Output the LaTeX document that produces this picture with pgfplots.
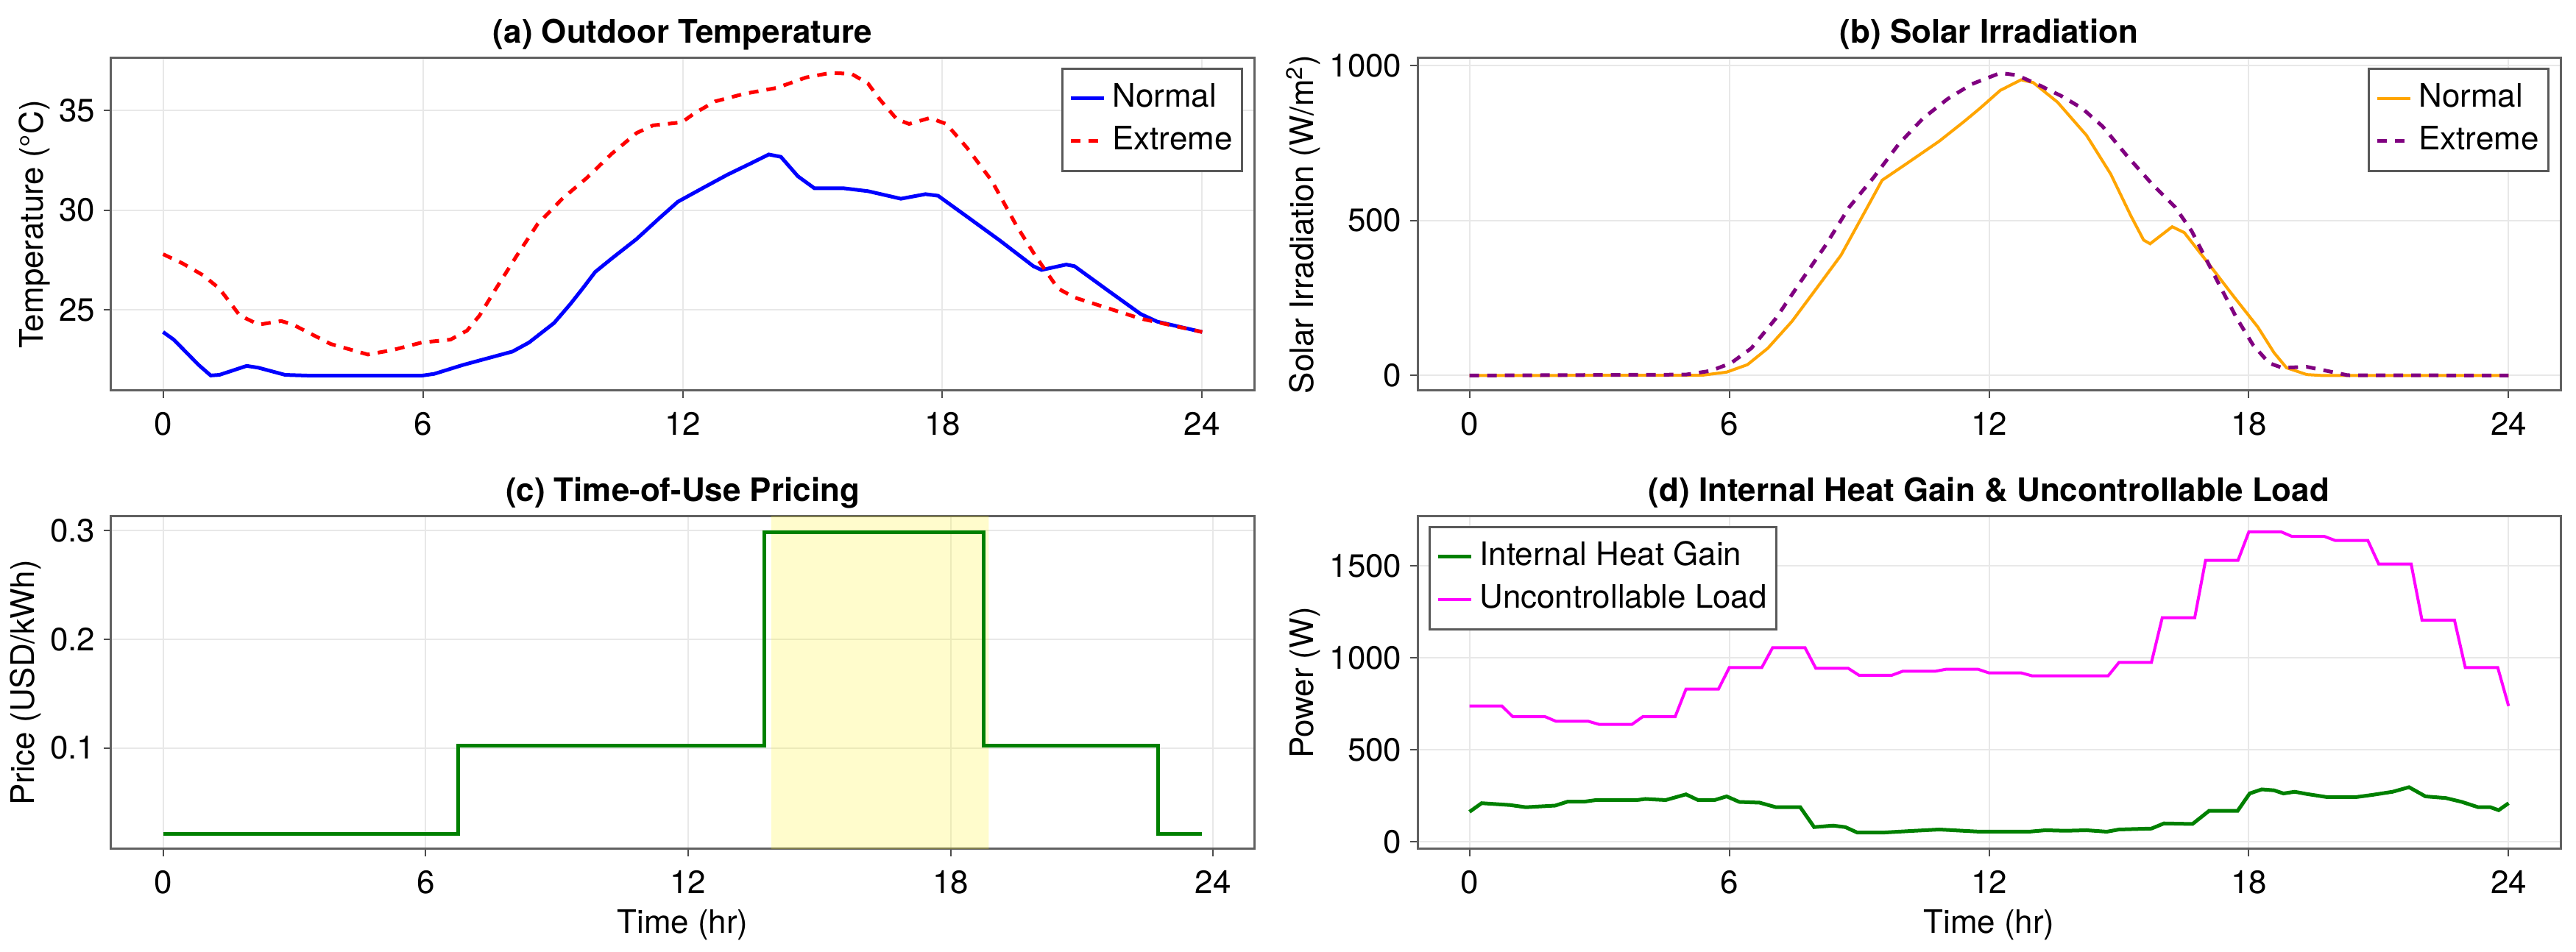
\documentclass[border=0pt]{standalone}
\usepackage{fontspec}
\setmainfont{TeX Gyre Heros}
\usepackage{pgfplots}
\pgfplotsset{compat=1.18}
\definecolor{cblue}{RGB}{0,0,255}
\definecolor{cred}{RGB}{255,0,0}
\definecolor{corange}{RGB}{255,165,0}
\definecolor{cpurple}{RGB}{128,0,128}
\definecolor{cgreen}{RGB}{0,128,0}
\definecolor{cmag}{RGB}{255,0,255}
\newcommand{\fs}{\fontsize{12.5}{15}\selectfont}
\pgfplotsset{
  panel/.style={
    scale only axis, width=15.53cm, height=4.52cm,
    xmin=-1.2, xmax=25.2,
    xtick={0,6,12,18,24},
    grid=major, grid style={black!9, line width=0.02cm},
    axis line style={black!62, line width=0.03cm},
    tick style={black!70, line width=0.02cm},
    major tick length=0.1cm, tick align=outside,
    xtick pos=bottom, ytick pos=left,
    font=\fs,
    /pgf/number format/assume math mode=true,
    /pgf/number format/1000 sep={},
    title style={font=\bfseries\fs, at={(0.5,1)}, anchor=base, yshift=-0.011cm, inner sep=0pt},
    xticklabel style={inner sep=0pt},
    yticklabel style={inner sep=0pt},
    xticklabel shift=0.19cm,
    yticklabel shift=0.11cm,
    ylabel style={at={(ticklabel cs:0.5,0.12cm)}, inner sep=0pt},
    xlabel style={at={(ticklabel cs:0.5,0.2cm)}, inner sep=0pt},
    legend cell align=left,
    legend style={draw=black!65, line width=0.03cm, font=\fs,
      inner xsep=0.09cm, inner ysep=0.15cm,
      nodes={inner sep=0.04cm, text height=0.33cm, text depth=0.1cm},
      row sep=0.07cm, column sep=0.05cm},
    legend image code/.code={\draw[##1] (0cm,0cm) -- (0.45cm,0cm);},
    every axis plot/.append style={line width=0.05cm},
  }
}
\begin{document}
\begin{tikzpicture}
\path[use as bounding box] (0,0) rectangle (35cm,12.94cm);
% (a)
\begin{axis}[panel, at={(1.51cm,7.63cm)}, anchor=south west,
  ymin=20.95, ymax=37.62, ytick={25,30,35},
  title={(a) Outdoor Temperature}, ylabel={Temperature (°C)},
  legend style={at={(1,1)}, anchor=north east, xshift=-0.15cm, yshift=-0.13cm}]
\addplot[cblue, solid] coordinates {(0,23.89) (0.25,23.5) (0.82,22.24) (1.1,21.71) (1.3,21.74) (1.93,22.19) (2.2,22.1) (2.82,21.74) (3.4,21.7) (5.97,21.7) (6.26,21.79) (6.93,22.24) (8.07,22.91) (8.45,23.36) (9.03,24.34) (9.41,25.3) (9.69,26.07) (9.98,26.9) (10.36,27.57) (10.93,28.54) (11.5,29.67) (11.89,30.42) (12.46,31.1) (13.03,31.77) (13.6,32.37) (13.99,32.79) (14.27,32.67) (14.66,31.7) (15.04,31.1) (15.7,31.1) (16.28,30.95) (17.04,30.57) (17.61,30.8) (17.9,30.72) (18.57,29.67) (19.33,28.47) (20.1,27.19) (20.29,27.0) (20.86,27.27) (21.05,27.19) (21.81,25.99) (22.58,24.79) (22.96,24.41) (24,23.89)};
\addlegendentry{Normal}
\addplot[cred, dash pattern=on 0.13cm off 0.11cm] coordinates {(0,27.79) (0.44,27.34) (0.92,26.74) (1.3,26.07) (1.77,24.72) (2.21,24.26) (2.73,24.44) (3.0,24.26) (3.87,23.29) (4.73,22.76) (5.31,22.99) (5.97,23.36) (6.64,23.51) (7.02,23.96) (7.31,24.72) (7.69,26.07) (8.17,27.72) (8.65,29.3) (9.22,30.57) (9.79,31.62) (10.36,32.82) (10.94,33.87) (11.32,34.25) (11.98,34.4) (12.27,34.85) (12.75,35.45) (13.42,35.83) (14.18,36.13) (14.85,36.65) (15.42,36.88) (15.9,36.83) (16.28,36.35) (16.56,35.53) (16.95,34.55) (17.23,34.32) (17.71,34.62) (18.09,34.32) (18.57,33.12) (19.14,31.47) (19.71,29.22) (20.1,27.87) (20.38,26.97) (20.67,26.07) (21.05,25.62) (21.81,25.09) (22.58,24.56) (24,23.89)};
\addlegendentry{Extreme}
\end{axis}
% (b)
\begin{axis}[panel, at={(19.26cm,7.63cm)}, anchor=south west,
  ymin=-48.8, ymax=1024, ytick={0,500,1000},
  title={(b) Solar Irradiation}, ylabel={Solar Irradiation (W/m\textsuperscript{2})},
  legend style={at={(1,1)}, anchor=north east, xshift=-0.15cm, yshift=-0.13cm}]
\addplot[corange, line width=0.04cm] coordinates {(0,0) (5.38,1) (5.94,11) (6.42,35) (6.89,88) (7.45,175) (8.02,282) (8.58,388) (9.15,533) (9.53,630) (10.09,683) (10.85,756) (11.42,819) (11.79,862) (12.26,920) (12.74,954) (13.02,945) (13.58,882) (14.25,775) (14.81,650) (15.28,514) (15.57,437) (15.72,425) (16.23,480) (16.51,461) (17.08,359) (17.64,257) (18.21,156) (18.58,74) (18.87,25) (19.34,3) (19.7,0) (24,0)};
\addlegendentry{Normal}
\addplot[cpurple, dash pattern=on 0.13cm off 0.11cm] coordinates {(0,0) (5.0,3) (5.57,15) (6.04,40) (6.51,88) (7.08,185) (7.64,301) (8.21,417) (8.77,543) (9.34,640) (9.91,746) (10.47,829) (11.04,892) (11.6,940) (12.26,976) (12.64,969) (13.11,940) (13.68,901) (14.15,862) (14.62,804) (15.19,708) (15.75,620) (16.3,543) (16.68,466) (17.25,311) (17.72,185) (18.1,98) (18.47,40) (18.77,25) (19.34,28) (19.8,15) (20.28,1) (24,0)};
\addlegendentry{Extreme}
\end{axis}
% (c)
\begin{axis}[panel, at={(1.51cm,1.40cm)}, anchor=south west,
  xmin=-1.1875, xmax=24.9375,
  ymin=0.0071, ymax=0.3129, ytick={0.1,0.2,0.3},
  yticklabel style={/pgf/number format/.cd, fixed, precision=1},
  title={(c) Time-of-Use Pricing}, ylabel={Price (USD/kWh)}, xlabel={Time (hr)}]
\addplot[draw=none, fill=yellow, fill opacity=0.2, line width=0pt] coordinates {(13.9,-1) (13.9,1) (18.87,1) (18.87,-1)} \closedcycle;
\addplot[cgreen] coordinates {(0,0.021) (6.75,0.021) (6.75,0.102) (13.75,0.102) (13.75,0.298) (18.75,0.298) (18.75,0.102) (22.75,0.102) (22.75,0.021) (23.75,0.021)};
\end{axis}
% (d)
\begin{axis}[panel, at={(19.26cm,1.40cm)}, anchor=south west,
  ymin=-39, ymax=1769, ytick={0,500,1000,1500},
  title={(d) Internal Heat Gain \& Uncontrollable Load}, ylabel={Power (W)}, xlabel={Time (hr)},
  legend style={at={(0,1)}, anchor=north west, xshift=0.15cm, yshift=-0.13cm}]
\addplot[cgreen] coordinates {(0,163) (0.28,210) (0.94,200) (1.3,188) (1.98,197) (2.26,218) (2.64,218) (2.92,227) (3.87,227) (4.06,233) (4.53,227) (5.0,258) (5.28,227) (5.66,227) (5.94,247) (6.23,217) (6.7,213) (7.08,188) (7.64,188) (7.96,80) (8.4,88) (8.68,80) (8.96,50) (9.53,50) (10.28,60) (10.85,67) (11.79,55) (12.92,55) (13.3,63) (13.77,60) (14.25,63) (14.72,55) (15.0,67) (15.75,72) (16.04,100) (16.7,97) (17.08,168) (17.74,168) (18.02,263) (18.3,285) (18.58,280) (18.8,263) (19.06,272) (19.34,260) (19.81,243) (20.47,243) (20.85,255) (21.32,272) (21.7,297) (22.08,247) (22.55,238) (22.92,217) (23.3,188) (23.58,188) (23.77,172) (24,210)};
\addlegendentry{Internal Heat Gain}
\addplot[cmag, line width=0.04cm] coordinates {(0,738) (0.75,738) (1,680) (1.75,680) (2,655) (2.75,655) (3,638) (3.75,638) (4,680) (4.75,680) (5,830) (5.75,830) (6,947) (6.75,947) (7,1055) (7.75,1055) (8,943) (8.75,943) (9,905) (9.75,905) (10,927) (10.75,927) (11,938) (11.75,938) (12,918) (12.75,918) (13,902) (14.75,902) (15,975) (15.75,975) (16,1218) (16.75,1218) (17,1530) (17.75,1530) (18,1685) (18.75,1685) (19,1660) (19.75,1660) (20,1638) (20.75,1638) (21,1510) (21.75,1510) (22,1205) (22.75,1205) (23,947) (23.75,947) (24,738)};
\addlegendentry{Uncontrollable Load}
\end{axis}
\end{tikzpicture}
\end{document}
